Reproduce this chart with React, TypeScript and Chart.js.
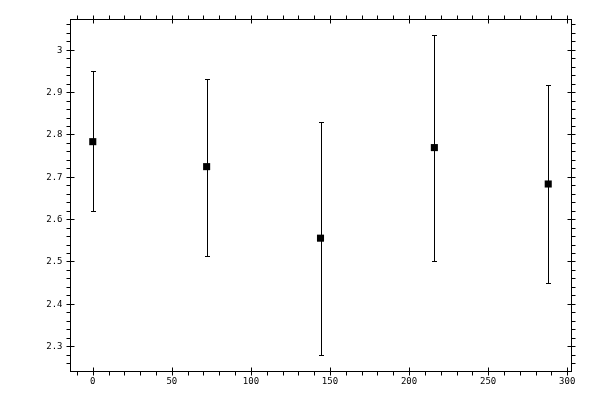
import { useEffect, useRef } from "react";
import { Chart, registerables } from "chart.js";

Chart.register(...registerables);

const xValues = [0, 72, 144, 216, 288];
const yValues = [2.783, 2.724, 2.555, 2.769, 2.683];
const yLower = [2.619, 2.512, 2.279, 2.502, 2.448];
const yUpper = [2.949, 2.932, 2.829, 3.035, 2.916];

const xTicks = [0, 50, 100, 150, 200, 250, 300];
const yTicks = [2.3, 2.4, 2.5, 2.6, 2.7, 2.8, 2.9, 3];
const xMinorStep = 10;
const yMinorStep = 0.02;

const xMin = -14.4;
const xMax = 302.4;
const yMin = 2.2412;
const yMax = 3.0728;

const font = "9px 'DejaVu Sans Mono', monospace";

// error bars under the squares
const errorBars = {
    id: "errorBars",
    beforeDatasetsDraw(chart: any) {
        const { ctx, scales } = chart;
        ctx.save();
        ctx.strokeStyle = "#000";
        ctx.lineWidth = 1;
        xValues.forEach((v, i) => {
            const x = Math.round(scales.x.getPixelForValue(v)) + 0.5;
            const top = Math.round(scales.y.getPixelForValue(yUpper[i])) + 0.5;
            const bottom = Math.round(scales.y.getPixelForValue(yLower[i])) + 0.5;
            ctx.beginPath();
            ctx.moveTo(x, top);
            ctx.lineTo(x, bottom);
            ctx.moveTo(x - 2.5, top);
            ctx.lineTo(x + 2.5, top);
            ctx.moveTo(x - 2.5, bottom);
            ctx.lineTo(x + 2.5, bottom);
            ctx.stroke();
        });
        ctx.restore();
    },
};

// frame with major/minor ticks on all four sides
const frame = {
    id: "frame",
    afterDraw(chart: any) {
        const { ctx, chartArea, scales } = chart;
        const left = Math.round(chartArea.left) + 0.5;
        const right = Math.round(chartArea.right) + 0.5;
        const top = Math.round(chartArea.top) + 0.5;
        const bottom = Math.round(chartArea.bottom) + 0.5;
        ctx.save();
        ctx.strokeStyle = "#000";
        ctx.lineWidth = 1;
        ctx.strokeRect(left, top, right - left, bottom - top);

        ctx.beginPath();
        for (let v = Math.ceil(xMin / xMinorStep) * xMinorStep; v <= xMax; v += xMinorStep) {
            const x = Math.round(scales.x.getPixelForValue(v)) + 0.5;
            const major = Math.abs(v % 50) < 1e-6;
            ctx.moveTo(x, bottom - (major ? 4 : 0));
            ctx.lineTo(x, bottom + 4);
            ctx.moveTo(x, top + (major ? 4 : 0));
            ctx.lineTo(x, top - 4);
        }
        const yStart = Math.ceil(yMin / yMinorStep);
        for (let k = yStart; k * yMinorStep <= yMax; k++) {
            const v = k * yMinorStep;
            const y = Math.round(scales.y.getPixelForValue(v)) + 0.5;
            const major = k % 5 === 0;
            ctx.moveTo(left + (major ? 4 : 0), y);
            ctx.lineTo(left - 4, y);
            ctx.moveTo(right - (major ? 4 : 0), y);
            ctx.lineTo(right + 4, y);
        }
        ctx.stroke();

        ctx.fillStyle = "#000";
        ctx.font = font;
        ctx.textAlign = "center";
        ctx.textBaseline = "top";
        xTicks.forEach((v) => {
            ctx.fillText(String(v), scales.x.getPixelForValue(v), bottom + 6);
        });
        ctx.textAlign = "right";
        ctx.textBaseline = "middle";
        yTicks.forEach((v) => {
            ctx.fillText(String(v), left - 8, scales.y.getPixelForValue(v) + 0.5);
        });
        ctx.restore();
    },
};

export default function App() {
    const canvasRef: any = useRef(null);

    useEffect(() => {
        if (!canvasRef.current) return;
        const chart = new Chart(canvasRef.current.getContext("2d"), {
            type: "scatter",
            data: {
                datasets: [
                    {
                        data: xValues.map((x, i) => ({ x, y: yValues[i] })),
                        pointStyle: "rect",
                        pointRadius: 5,
                        pointBorderWidth: 0,
                        pointBackgroundColor: "#000",
                        pointBorderColor: "#000",
                    },
                ],
            },
            options: {
                responsive: false,
                animation: false,
                devicePixelRatio: 1,
                layout: { padding: { left: 70, top: 19, right: 29, bottom: 29 } },
                scales: {
                    x: { type: "linear", min: xMin, max: xMax, display: false },
                    y: { type: "linear", min: yMin, max: yMax, display: false },
                },
                plugins: {
                    legend: { display: false },
                    tooltip: { enabled: false },
                },
            } as any,
            plugins: [errorBars, frame],
        });
        return () => chart.destroy();
    }, []);

    return (
        <div style={{ position: "absolute", left: 0, top: 0, width: 600, height: 400, background: "#fff" }}>
            <canvas ref={canvasRef} width={600} height={400} />
        </div>
    );
}
